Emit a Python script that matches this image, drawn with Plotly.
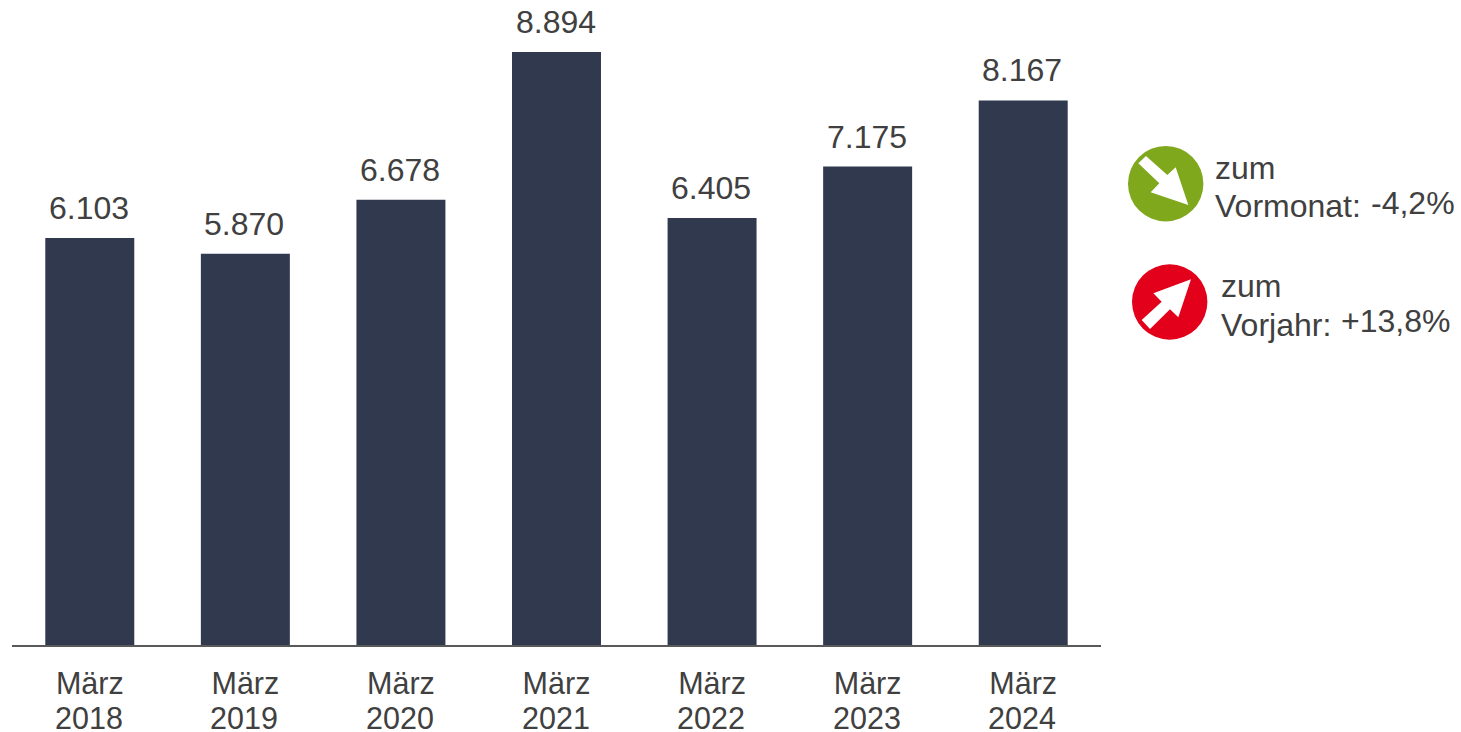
import plotly.graph_objects as go

categories = ["März 2018", "März 2019", "März 2020", "März 2021", "März 2022", "März 2023", "März 2024"]
years = ["2018", "2019", "2020", "2021", "2022", "2023", "2024"]
months = ["März"] * 7
values = [6103, 5870, 6678, 8894, 6405, 7175, 8167]
labels = ["6.103", "5.870", "6.678", "8.894", "6.405", "7.175", "8.167"]

W, H = 1461, 732
L, R, B = 12, 1101, 645
TXT = "#404040"
FONT = "Liberation Sans, Arial, sans-serif"

def px(x):
    return (x - L) / (R - L)

def py(y):
    return (B - y) / B

def poly(points):
    return "M " + " L ".join(f"{px(x):.5f},{py(y):.5f}" for x, y in points) + " Z"

def zoom_pts(points):
    return [(1110 + a / 3, 130 + b / 3) for a, b in points]

fig = go.Figure(go.Bar(
    x=categories, y=values,
    marker=dict(color="#31394F", line=dict(width=0)), width=0.572, hoverinfo="skip",
))

shapes = []
for cx, cy, col in [(1165.7, 183.7, "#7FA81C"), (1169.7, 302.0, "#E2001A")]:
    r = 37.7
    shapes.append(dict(type="circle", xref="paper", yref="paper", x0=px(cx - r), x1=px(cx + r),
                       y0=py(cy + r), y1=py(cy - r), fillcolor=col, line=dict(width=0)))
arrow_down = [(85, 100), (108, 78), (172, 135), (197, 112), (235, 225), (122, 187), (148, 160)]
arrow_up = [(243, 448), (130, 490), (155, 515), (95, 570), (120, 597), (180, 538), (205, 562)]
for a in (arrow_down, arrow_up):
    shapes.append(dict(type="path", xref="paper", yref="paper", path=poly(zoom_pts(a)),
                       fillcolor="white", line=dict(width=0)))

notes = [("zum", 1215, 168.5), ("Vormonat:", 1215, 206.5), ("-4,2%", 1371, 203.5),
         ("zum", 1221, 286.5), ("Vorjahr:", 1221, 324.5), ("+13,8%", 1341, 320.5)]
annotations = [dict(text=t, x=px(x), y=py(y), xref="paper", yref="paper", xanchor="left", yanchor="middle",
                    showarrow=False, xshift=-2, font=dict(size=32, color=TXT, family=FONT)) for t, x, y in notes]
for cat, year, val, lab in zip(categories, years, values, labels):
    annotations.append(dict(text=lab, x=cat, y=val, xref="x", yref="y", xanchor="center", yanchor="bottom",
                            showarrow=False, yshift=10, xshift=-1, font=dict(size=32, color=TXT, family=FONT)))
    annotations.append(dict(text=year, x=cat, y=py(717.5), xref="x", yref="paper", xanchor="center", yanchor="middle",
                            showarrow=False, xshift=-1, height=28, borderpad=0, font=dict(size=30.5, color=TXT, family=FONT)))

fig.update_layout(
    width=W, height=H, margin=dict(l=L, r=W - R, t=0, b=H - B, pad=0),
    paper_bgcolor="white", plot_bgcolor="white", showlegend=False, bargap=0.428,
    font=dict(family=FONT, size=30.5, color=TXT), shapes=shapes, annotations=annotations,
    xaxis=dict(type="category", tickmode="array", tickvals=categories, ticktext=months, tickangle=0,
               automargin=False, showline=True, linecolor="#595959", linewidth=2, ticks="", showgrid=False,
               tickfont=dict(size=30.5, color=TXT, family=FONT), ticklabelstandoff=10),
    yaxis=dict(range=[0, 9674], visible=False, showgrid=False, zeroline=False),
)
fig.write_html("out.html", config=dict(displayModeBar=False),
               post_script="document.body.style.margin='0';document.documentElement.style.overflow='hidden';")
